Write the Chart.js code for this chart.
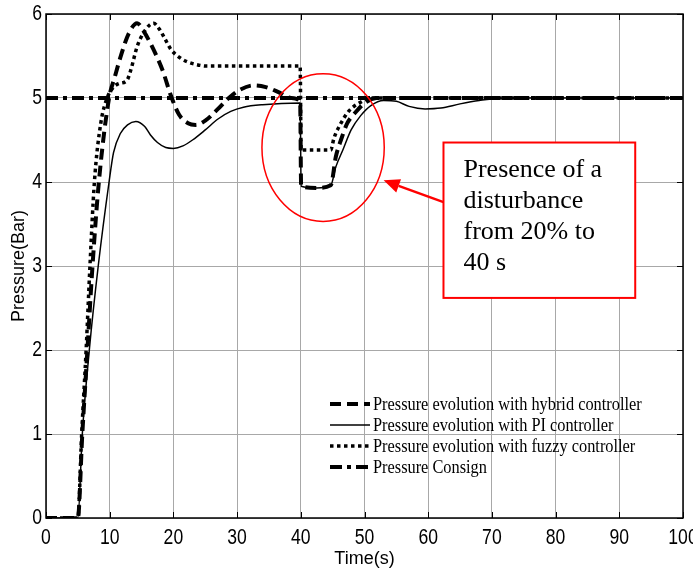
<!DOCTYPE html>
<html>
<head>
<meta charset="utf-8">
<script src="https://cdn.jsdelivr.net/npm/chart.js@4.4.1/dist/chart.umd.min.js"></script>
<style>
  html, body { margin: 0; padding: 0; background: #fff; }
  #wrap { width: 693px; height: 573px; }
</style>
</head>
<body>
<div id="wrap"><canvas id="cPress" width="693" height="573"></canvas></div>
<script>
// ===== Pressure response: hybrid / PI / fuzzy vs consign =====
const xTicks = [0, 10, 20, 30, 40, 50, 60, 70, 80, 90, 100];
const yTicks = [0, 1, 2, 3, 4, 5, 6];

const hybridT = [0, 5, 5.7, 6.5, 7.3, 8.3, 9.9, 10.8, 11.7, 13, 14.3, 15.3, 16.4, 18.3, 19.6, 20.9, 22.3, 23.5, 25, 27, 28.7, 30.5, 32.6, 34.5, 36.5, 38.5, 39.9, 40.05, 42.5, 44.7, 45.5, 46.3, 47.3, 48.6, 50.2, 52, 60, 100];
const hybridP = [0, 0, 1, 2, 3, 4, 5, 5.25, 5.49, 5.77, 5.89, 5.8, 5.65, 5.33, 5.03, 4.8, 4.7, 4.68, 4.73, 4.87, 5.0, 5.1, 5.15, 5.13, 5.07, 5.0, 4.96, 3.95, 3.93, 3.96, 4.3, 4.5, 4.7, 4.83, 4.95, 5.0, 5.0, 5.0];

const piT = [0, 5, 5.7, 6.8, 8.2, 9.9, 10.6, 11.7, 12.8, 14.1, 15.5, 16.4, 17.5, 18.8, 20, 21.5, 23, 25, 27, 29, 31, 34, 39.9, 40.05, 42.5, 44.7, 45.5, 46.6, 47.9, 49.4, 51, 53, 55, 57, 59.5, 62, 65, 68, 72, 100];
const piP = [0, 0, 1, 2, 3, 4, 4.35, 4.58, 4.68, 4.72, 4.66, 4.56, 4.47, 4.41, 4.4, 4.43, 4.5, 4.62, 4.75, 4.84, 4.89, 4.92, 4.94, 3.95, 3.93, 3.96, 4.18, 4.38, 4.62, 4.79, 4.91, 4.97, 4.96, 4.9, 4.87, 4.88, 4.93, 4.97, 5.0, 5.0];

const fuzzyT = [0, 5, 5.6, 6.3, 6.9, 7.6, 8.6, 9.6, 10.5, 11.4, 12.7, 13.3, 14.3, 15.6, 16.9, 17.8, 18.7, 19.6, 21, 22.2, 23.5, 25.3, 39.9, 40.05, 44.7, 45.2, 46.3, 47.6, 49.4, 51, 60, 100];
const fuzzyP = [0, 0, 1, 2, 3, 4, 4.7, 5.0, 5.12, 5.17, 5.21, 5.33, 5.61, 5.81, 5.89, 5.82, 5.7, 5.58, 5.48, 5.43, 5.4, 5.38, 5.38, 4.38, 4.38, 4.52, 4.7, 4.85, 4.95, 5.0, 5.0, 5.0];

const consignT = [0, 100];
const consignP = [5, 5];

const seriesNames = [
    'Pressure evolution with hybrid controller',
    'Pressure evolution with PI controller',
    'Pressure evolution with fuzzy controller',
    'Pressure Consign'
];
const noteLines = ['Presence of a', 'disturbance', 'from 20% to', '40 s'];

const pts = (ts, ps) => ts.map((t, i) => ({ x: t, y: ps[i] }));

// draw text squeezed horizontally (the source figure uses narrow fonts)
function narrowText(ctx, s, x, y, sx, align) {
    ctx.save();
    ctx.translate(x, y);
    ctx.scale(sx, 1);
    ctx.textAlign = align;
    ctx.fillText(s, 0, 0);
    ctx.restore();
}

// tick labels, placed through the scales
const tickPlugin = {
    id: 'tickLabels',
    afterDraw(chart) {
        const { ctx, chartArea: a, scales: { x, y } } = chart;
        ctx.save();
        ctx.fillStyle = '#000';
        ctx.font = '22px Arial, "Liberation Sans", sans-serif';
        ctx.textBaseline = 'middle';
        xTicks.forEach(v => narrowText(ctx, String(v), x.getPixelForValue(v), a.bottom + 20, 0.8, 'center'));
        yTicks.forEach(v => narrowText(ctx, String(v), a.left - 4, y.getPixelForValue(v), 0.8, 'right'));
        ctx.restore();
    }
};

// legend drawn by hand (MATLAB style, no frame)
const legendPlugin = {
    id: 'matLegend',
    afterDraw(chart) {
        const ctx = chart.ctx;
        ctx.save();
        chart.data.datasets.forEach((ds, i) => {
            const y = 404 + i * 21;
            ctx.strokeStyle = '#000';
            ctx.lineWidth = ds.borderWidth;
            ctx.setLineDash(ds.borderDash || []);
            ctx.beginPath();
            ctx.moveTo(330, y);
            ctx.lineTo(370, y);
            ctx.stroke();
            ctx.setLineDash([]);
            ctx.fillStyle = '#000';
            ctx.font = '19px "Liberation Serif", "Times New Roman", serif';
            ctx.textBaseline = 'middle';
            narrowText(ctx, ds.label, 373, y + 1, 0.86, 'left');
        });
        ctx.restore();
    }
};

// frame + inner ticks
const framePlugin = {
    id: 'frame',
    afterDraw(chart) {
        const { ctx, chartArea: a, scales: { x, y } } = chart;
        ctx.save();
        ctx.strokeStyle = '#000';
        ctx.lineWidth = 1;
        ctx.beginPath();
        xTicks.forEach(v => {
            const px = Math.round(x.getPixelForValue(v)) + 0.5;
            ctx.moveTo(px, a.bottom); ctx.lineTo(px, a.bottom - 6);
            ctx.moveTo(px, a.top); ctx.lineTo(px, a.top + 6);
        });
        yTicks.forEach(v => {
            const py = Math.round(y.getPixelForValue(v)) + 0.5;
            ctx.moveTo(a.left, py); ctx.lineTo(a.left + 6, py);
            ctx.moveTo(a.right, py); ctx.lineTo(a.right - 6, py);
        });
        ctx.stroke();
        ctx.lineWidth = 1.5;
        ctx.strokeRect(a.left, a.top, a.right - a.left, a.bottom - a.top);
        ctx.restore();
    }
};

// red ellipse, arrow and note box
const notePlugin = {
    id: 'note',
    afterDraw(chart) {
        const { ctx, scales: { x, y } } = chart;
        ctx.save();
        ctx.strokeStyle = '#ff0000';
        ctx.fillStyle = '#ff0000';

        const cx = x.getPixelForValue(43.5), cy = y.getPixelForValue(4.41);
        const rx = x.getPixelForValue(43.5 + 9.6) - cx, ry = cy - y.getPixelForValue(4.41 + 0.88);
        ctx.lineWidth = 1.5;
        ctx.beginPath();
        ctx.ellipse(cx, cy, rx, ry, 0, 0, Math.PI * 2);
        ctx.stroke();

        const bx0 = x.getPixelForValue(62.4), bx1 = x.getPixelForValue(92.5);
        const by0 = y.getPixelForValue(4.47), by1 = y.getPixelForValue(2.62);

        const tipX = x.getPixelForValue(53.0), tipY = y.getPixelForValue(4.02);
        const tailX = bx0, tailY = y.getPixelForValue(3.76);
        const ang = Math.atan2(tipY - tailY, tipX - tailX);
        const hl = 16, hw = 7;
        const baseX = tipX - hl * Math.cos(ang), baseY = tipY - hl * Math.sin(ang);
        ctx.lineWidth = 2.5;
        ctx.beginPath();
        ctx.moveTo(tailX, tailY);
        ctx.lineTo(baseX, baseY);
        ctx.stroke();
        ctx.beginPath();
        ctx.moveTo(tipX, tipY);
        ctx.lineTo(baseX + hw * Math.sin(ang), baseY - hw * Math.cos(ang));
        ctx.lineTo(baseX - hw * Math.sin(ang), baseY + hw * Math.cos(ang));
        ctx.closePath();
        ctx.fill();

        ctx.fillStyle = '#fff';
        ctx.fillRect(bx0, by0, bx1 - bx0, by1 - by0);
        ctx.lineWidth = 2;
        ctx.strokeRect(bx0, by0, bx1 - bx0, by1 - by0);

        ctx.fillStyle = '#000';
        ctx.font = '26px "Liberation Serif", "Times New Roman", serif';
        ctx.textBaseline = 'alphabetic';
        noteLines.forEach((s, i) => ctx.fillText(s, bx0 + 20, by0 + 34 + i * 31));
        ctx.restore();
    }
};

const titleFont = { family: 'Arial, "Liberation Sans", sans-serif', size: 18 };

new Chart(document.getElementById('cPress'), {
    type: 'line',
    data: {
        datasets: [
            { label: seriesNames[0], data: pts(hybridT, hybridP), borderWidth: 4, borderDash: [11, 6], order: 2 },
            { label: seriesNames[1], data: pts(piT, piP), borderWidth: 1.5, borderDash: [], order: 3 },
            { label: seriesNames[2], data: pts(fuzzyT, fuzzyP), borderWidth: 3.5, borderDash: [3.5, 3.5], order: 1 },
            { label: seriesNames[3], data: pts(consignT, consignP), borderWidth: 4, borderDash: [12, 5, 4, 5], order: 0 }
        ].map(d => Object.assign(d, {
            borderColor: '#000', backgroundColor: '#000', pointRadius: 0,
            fill: false, cubicInterpolationMode: 'monotone'
        }))
    },
    options: {
        responsive: false,
        animation: false,
        layout: { padding: { top: 14, right: 10, left: 0, bottom: 0 } },
        plugins: { legend: { display: false }, tooltip: { enabled: false } },
        scales: {
            x: {
                type: 'linear', min: 0, max: 100,
                afterBuildTicks: s => { s.ticks = xTicks.map(v => ({ value: v })); },
                afterFit: s => { s.height = 55; s.paddingLeft = 0; s.paddingRight = 0; },
                grid: { color: '#a8a8a8', lineWidth: 1, drawTicks: false },
                border: { display: false },
                ticks: { display: false },
                title: { display: true, text: 'Time(s)', color: '#000', padding: { top: 0, bottom: 3 }, font: titleFont }
            },
            y: {
                type: 'linear', min: 0, max: 6,
                afterBuildTicks: s => { s.ticks = yTicks.map(v => ({ value: v })); },
                afterFit: s => { s.width = 46; s.paddingTop = 0; s.paddingBottom = 0; },
                grid: { color: '#a8a8a8', lineWidth: 1, drawTicks: false },
                border: { display: false },
                ticks: { display: false },
                title: { display: true, text: 'Pressure(Bar)', color: '#000', padding: { top: 8, bottom: 0 }, font: titleFont }
            }
        }
    },
    plugins: [framePlugin, notePlugin, legendPlugin, tickPlugin]
});
</script>
</body>
</html>
